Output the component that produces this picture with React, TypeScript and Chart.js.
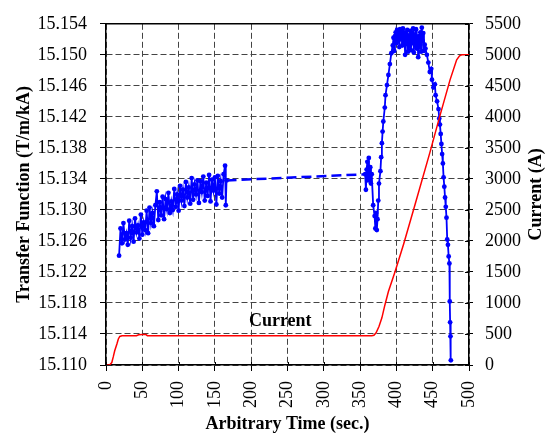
import React, { useEffect, useRef } from "react";
import { Chart, registerables } from "chart.js";

Chart.register(...registerables);

// Time axis
const xTicks = [0, 50, 100, 150, 200, 250, 300, 350, 400, 450, 500];
const leftTicks = [15.110, 15.114, 15.118, 15.122, 15.126, 15.130, 15.134, 15.138, 15.142, 15.146, 15.150, 15.154];
const rightTicks = [0, 500, 1000, 1500, 2000, 2500, 3000, 3500, 4000, 4500, 5000, 5500];

// Transfer function (blue)
const tfTime = [
  18, 20, 22, 24, 26, 28, 30, 32, 34, 36, 38, 40, 42, 44, 46, 48, 50, 52, 54, 56,
  58, 60, 62, 64, 66, 68, 70, 72, 74, 76, 78, 80, 82, 84, 86, 88, 90, 92, 94, 96,
  98, 100, 102, 104, 106, 108, 110, 112, 114, 116, 118, 120, 122, 124, 126, 128, 130, 132, 134, 136,
  138, 140, 142, 144, 146, 148, 150, 152, 154, 156, 158, 160, 162, 164, 165, 166,
  357, 358, 359, 360, 361, 362, 363, 364, 365, 366, 368, 370, 371, 372, 373, 374, 375, 376, 378, 379,
  380, 381, 382, 384, 385, 387, 389, 391, 393,
  395, 396, 397, 398, 399, 400, 401, 402, 403, 404, 405, 406, 407, 408, 409, 410, 411, 412, 413, 414,
  415, 416, 417, 418, 419, 420, 421, 422, 423, 424, 425, 426, 427, 428, 429, 430, 431, 432, 433, 434,
  435, 436, 437, 438, 439, 440, 442, 444, 446, 448, 449, 451, 453, 454, 456, 458, 459, 460, 461, 462,
  463, 464, 465, 466, 467, 468, 469, 470, 471, 472, 473, 473.5, 474, 474.5, 475,
];
const tfValue = [
  15.1241, 15.1276, 15.1257, 15.1283, 15.1262, 15.1270, 15.1255, 15.1286, 15.1264, 15.1279,
  15.1259, 15.1289, 15.1271, 15.1280, 15.1263, 15.1294, 15.1268, 15.1284, 15.1274, 15.1299,
  15.1270, 15.1303, 15.1283, 15.1296, 15.1279, 15.1306, 15.1324, 15.1287, 15.1310, 15.1293,
  15.1317, 15.1288, 15.1314, 15.1301, 15.1322, 15.1296, 15.1311, 15.1300, 15.1327, 15.1304,
  15.1320, 15.1299, 15.1331, 15.1312, 15.1326, 15.1305, 15.1336, 15.1316, 15.1329, 15.1308,
  15.1341, 15.1313, 15.1333, 15.1320, 15.1338, 15.1309, 15.1337, 15.1323, 15.1343, 15.1312,
  15.1335, 15.1318, 15.1345, 15.1311, 15.1339, 15.1325, 15.1342, 15.1307, 15.1344, 15.1321,
  15.1337, 15.1316, 15.1346, 15.1357, 15.1306, 15.1338,
  15.1346, 15.1326, 15.1352, 15.1362, 15.1338, 15.1367, 15.1341, 15.1355, 15.1334, 15.1346,
  15.1306, 15.1292, 15.1276, 15.1296, 15.1274, 15.1288, 15.1312, 15.1334, 15.1350, 15.1368,
  15.1386, 15.1401, 15.1414, 15.1432, 15.1448, 15.1461, 15.1474, 15.1488, 15.1502,
  15.1512, 15.1522, 15.1505, 15.1524, 15.1529, 15.1515, 15.1532, 15.1518, 15.1528, 15.1510,
  15.1533, 15.1520, 15.1530, 15.1512, 15.1534, 15.1516, 15.1529, 15.1500, 15.1527, 15.1514,
  15.1532, 15.1504, 15.1525, 15.1511, 15.1531, 15.1506, 15.1528, 15.1515, 15.1534, 15.1503,
  15.1526, 15.1512, 15.1533, 15.1508, 15.1522, 15.1497, 15.1524, 15.1510, 15.1529, 15.1504,
  15.1535, 15.1518, 15.1528, 15.1505, 15.1513, 15.1508, 15.1500, 15.1490, 15.1478, 15.1482,
  15.1468, 15.1458, 15.1462, 15.1448, 15.1440, 15.1430, 15.1418, 15.1410, 15.1398, 15.1385,
  15.1372, 15.1360, 15.1342, 15.1330, 15.1316, 15.1304, 15.1290, 15.1262, 15.1255, 15.1240,
  15.1231, 15.1182, 15.1155, 15.1137, 15.1106,
];

// Current (red)
const curTime = [0, 5, 8, 10, 12, 15, 17, 19, 22, 42, 45, 50, 55, 57, 100, 200, 300, 366, 369, 372, 376, 380, 384, 389, 398, 410, 426, 446, 460, 474, 483, 487, 490, 500];
const curValue = [0, 0, 40, 130, 230, 340, 420, 460, 470, 472, 488, 492, 490, 472, 470, 470, 470, 470, 480, 520, 620, 760, 960, 1185, 1500, 1950, 2600, 3420, 4020, 4600, 4920, 4985, 5000, 5000];

const currentLabel = { text: "Current", x: 240, y: 711 };
const rightTitle = "Current (A)";

const FONT = "'Liberation Serif', 'Times New Roman', serif";

export default function App() {
  const ref = useRef<HTMLCanvasElement | null>(null);

  useEffect(() => {
    if (!ref.current) return;
    const extras = {
      id: "extras",
      afterDraw(chart: any) {
        const { ctx, chartArea } = chart;
        const xs = chart.scales.x;
        const y1 = chart.scales.y1;
        ctx.save();
        ctx.strokeStyle = "#000";
        ctx.lineWidth = 1.5;
        ctx.beginPath();
        ctx.moveTo(chartArea.left, chartArea.top);
        ctx.lineTo(chartArea.right, chartArea.top);
        ctx.stroke();
        ctx.lineWidth = 1;
        ctx.beginPath();
        for (const t of rightTicks) {
          const py = Math.round(y1.getPixelForValue(t)) + 0.5;
          ctx.moveTo(chartArea.right - 4, py);
          ctx.lineTo(chartArea.right, py);
        }
        for (const t of xTicks) {
          const px = Math.round(xs.getPixelForValue(t)) + 0.5;
          ctx.moveTo(px, chartArea.bottom - 3);
          ctx.lineTo(px, chartArea.bottom);
        }
        ctx.stroke();
        ctx.fillStyle = "#000";
        ctx.font = `bold 18px ${FONT}`;
        ctx.textAlign = "center";
        ctx.textBaseline = "middle";
        ctx.fillText(currentLabel.text, xs.getPixelForValue(currentLabel.x), y1.getPixelForValue(currentLabel.y));
        // right axis title, reading bottom-to-top
        ctx.translate(536, (chartArea.top + chartArea.bottom) / 2);
        ctx.rotate(-Math.PI / 2);
        ctx.fillText(rightTitle, 0, 0);
        ctx.restore();
      },
    };

    const chart = new Chart(ref.current, {
      type: "line",
      data: {
        datasets: [
          {
            label: "Current",
            data: curTime.map((t, i) => ({ x: t, y: curValue[i] })),
            yAxisID: "y1",
            borderColor: "#ff0000",
            borderWidth: 1.5,
            pointRadius: 0,
            tension: 0,
            order: 0,
          },
          {
            label: "Transfer Function",
            data: tfTime.map((t, i) => ({ x: t, y: tfValue[i] })),
            yAxisID: "y",
            borderColor: "#0000ff",
            backgroundColor: "#0000ff",
            borderWidth: 1.8,
            pointRadius: 2.4,
            pointBorderWidth: 0,
            pointBackgroundColor: "#0000ff",
            tension: 0,
            order: 1,
            segment: {
              borderDash: (c: any) => (c.p1.parsed.x - c.p0.parsed.x > 50 ? [10, 5] : undefined),
              borderWidth: (c: any) => (c.p1.parsed.x - c.p0.parsed.x > 50 ? 2.5 : undefined),
            },
          },
        ],
      },
      options: {
        animation: false,
        responsive: true,
        maintainAspectRatio: false,
        layout: { padding: { top: 17, left: 0, right: 0, bottom: 0 } },
        plugins: { legend: { display: false }, tooltip: { enabled: false } },
        scales: {
          x: {
            type: "linear",
            min: 0,
            max: 500,
            afterBuildTicks: (s: any) => { s.ticks = xTicks.map((v) => ({ value: v })); },
            afterFit: (s: any) => { s.height = 73; },
            ticks: {
              color: "#000",
              font: { family: FONT, size: 18 },
              padding: 10,
              minRotation: 90,
              maxRotation: 90,
              autoSkip: false,
              callback: (v: any) => String(v),
            },
            grid: { color: "#444", lineWidth: 1, tickLength: 6, tickColor: "#000" },
            border: { color: "#000", width: 1.5, dash: [6, 3] },
            title: {
              display: true,
              text: "Arbitrary Time (sec.)",
              color: "#000",
              font: { family: FONT, size: 18, weight: "bold" },
              padding: { top: 0, bottom: 3 },
            },
          },
          y: {
            position: "left",
            min: 15.110,
            max: 15.154,
            afterBuildTicks: (s: any) => { s.ticks = leftTicks.map((v) => ({ value: v })); },
            afterFit: (s: any) => { s.width = 106; },
            ticks: {
              color: "#000",
              font: { family: FONT, size: 18 },
              padding: 13,
              callback: (v: any) => Number(v).toFixed(3),
            },
            grid: { color: "#444", lineWidth: 1, tickLength: 6, tickColor: "#000" },
            border: { color: "#000", width: 1.5, dash: [6, 3] },
            title: {
              display: true,
              text: "Transfer Function (T/m/kA)",
              color: "#000",
              font: { family: FONT, size: 18, weight: "bold" },
              padding: { top: 14, bottom: 4 },
            },
          },
          y1: {
            position: "right",
            min: 0,
            max: 5500,
            afterBuildTicks: (s: any) => { s.ticks = rightTicks.map((v) => ({ value: v })); },
            afterFit: (s: any) => { s.width = 78; },
            ticks: {
              color: "#000",
              font: { family: FONT, size: 18 },
              padding: 12,
              callback: (v: any) => String(v),
            },
            grid: { drawOnChartArea: false, tickLength: 4, tickColor: "#000" },
            border: { color: "#000", width: 1.5 },
            title: { display: false },
          },
        },
      },
      plugins: [extras],
    } as any);
    return () => chart.destroy();
  }, []);

  return (
    <div style={{ position: "fixed", left: 0, top: 0, width: 547, height: 438, background: "#fff" }}>
      <canvas ref={ref} />
    </div>
  );
}
